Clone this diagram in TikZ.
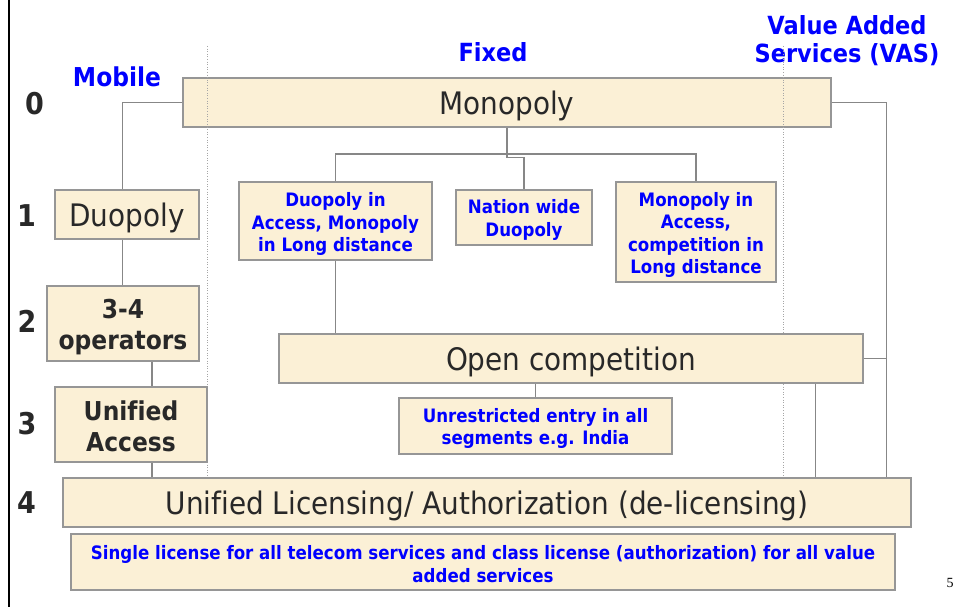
\documentclass[tikz,border=0pt]{standalone}
\usepackage{fontspec}
\setmainfont{DejaVu Sans}[FakeStretch=0.9, Ligatures=NoCommon]
\newfontfamily\pagefont{Liberation Serif}
\usetikzlibrary{calc}

\definecolor{boxfill}{RGB}{251,240,214}
\definecolor{boxline}{RGB}{150,150,150}
\definecolor{connline}{RGB}{135,135,135}
\definecolor{headblue}{RGB}{0,0,255}
\definecolor{darktext}{RGB}{40,40,40}

\tikzset{
  box/.style={draw=boxline, fill=boxfill, line width=1.3pt, inner sep=0pt},
  plaintext/.style={text=darktext, font=\fontsize{31}{35}\selectfont, align=center, inner sep=0pt},
  boldtext/.style={text=darktext, font=\fontsize{26}{31}\selectfont\bfseries, align=center, inner sep=0pt},
  bluetext/.style={text=headblue, font=\fontsize{18.5}{22.5}\selectfont\bfseries, align=center, inner sep=0pt},
  heading/.style={text=headblue, font=\fontsize{25}{28}\selectfont\bfseries, align=center, inner sep=0pt},
  stage/.style={text=darktext, font=\fontsize{30}{34}\selectfont\bfseries, inner sep=0pt},
  conn/.style={draw=connline, line width=1.1pt},
  guide/.style={draw=gray!70, line width=0.6pt, dotted},
}

\begin{document}
\begin{tikzpicture}[x=1pt, y=-1pt]
  \useasboundingbox (0,0) rectangle (954,607);
  \fill[white] (0,0) rectangle (954,607);

  % left margin rule
  \draw[line width=2.3pt, black] (9,0) -- (9,607);

  % column headings
  \node[heading, font=\fontsize{26}{28}\selectfont\bfseries] (hmob) at (117,77) {Mobile};
  \node[heading] (hfix) at (493,52) {Fixed};
  \node[heading] (hvas) at (847,41) {Value Added\\Services (VAS)};

  % stage numbers
  \node[stage] (s0) at (34.5,104) {0};
  \node[stage] (s1) at (26.5,216) {1};
  \node[stage] (s2) at (27,321) {2};
  \node[stage] (s3) at (27,424) {3};
  \node[stage] (s4) at (26.5,503) {4};

  % stage 0
  \node[box, minimum width=648pt, minimum height=49pt] (mono) at (507,102.5) {};
  \node[plaintext] (monot) at ([yshift=-3.5pt]mono.center) {Monopoly};

  % column separators
  \draw[guide] (207,46) -- (207,478);
  \draw[guide] (783,46) -- (783,478);

  % stage 1
  \node[box, minimum width=144pt, minimum height=49pt] (duom) at (127,214.5) {};
  \node[plaintext] (duomt) at ([yshift=-3.5pt]duom.center) {Duopoly};
  \node[box, minimum width=193pt, minimum height=78pt] (fa) at (335.5,221) {};
  \node[bluetext] (fat) at ([yshift=-3pt]fa.center) {Duopoly in\\Access, Monopoly\\in Long distance};
  \node[box, minimum width=136pt, minimum height=55pt] (fb) at (524,217.5) {};
  \node[bluetext] (fbt) at ([yshift=-2.5pt]fb.center) {Nation wide\\Duopoly};
  \node[box, minimum width=160pt, minimum height=100pt] (fc) at (696,232) {};
  \node[bluetext] (fct) at ([yshift=-3pt]fc.center) {Monopoly in\\Access,\\competition in\\Long distance};

  % stage 2
  \node[box, minimum width=152pt, minimum height=75pt] (ops) at (123,323.5) {};
  \node[boldtext] (opst) at ([yshift=-3.5pt]ops.center) {3-4\\operators};
  \node[box, minimum width=584pt, minimum height=49pt] (open) at (571,358.5) {};
  \node[plaintext] (opent) at ([yshift=-3.5pt]open.center) {Open competition};
  \node[box, minimum width=273pt, minimum height=56pt] (unres) at (535.5,426) {};
  \node[bluetext] (unrest) at ([yshift=-2.5pt]unres.center) {Unrestricted entry in all\\segments e.g. India};

  % stage 3
  \node[box, minimum width=152pt, minimum height=75pt] (ua) at (131,424.5) {};
  \node[boldtext] (uat) at ([yshift=-2pt]ua.center) {Unified\\Access};

  % stage 4
  \node[box, minimum width=848pt, minimum height=49pt] (ul) at (487,502.5) {};
  \node[plaintext] (ult) at ([yshift=-3.5pt]ul.center) {Unified Licensing/ Authorization (de-licensing)};
  \node[box, minimum width=824pt, minimum height=56pt] (single) at (483,562) {};
  \node[bluetext] (singlet) at ([yshift=-2pt]single.center) {Single license for all telecom services and class license (authorization) for all value\\added services};

  % page number
  \node[font=\pagefont\fontsize{14}{16}\selectfont, anchor=west, inner sep=0pt] (pg) at (946.5,583) {5};

  % connector guide coordinates
  \coordinate (mx) at (122.5,0);
  \coordinate (ax) at (152,0);
  \coordinate (br) at (0,154);
  \coordinate (rx) at (886.5,0);
  \coordinate (vx) at (815.5,0);

  % mobile chain
  \draw[conn] (mono.west) -| (mx |- duom.north);
  \draw[conn] (mx |- duom.south) -- (mx |- ops.north);
  \draw[conn] (ax |- ops.south) -- (ax |- ua.north);
  \draw[conn] (ax |- ua.south) -- (ax |- ul.north);

  % fixed tree
  \draw[conn] (mono.south) |- ($(fb.north)+(0,-32)$) -- (fb.north);
  \draw[conn] (fa.north) -- (fa.north |- br) -| (fc.north);
  \draw[conn] (fa.south) -- (fa.south |- open.north);
  \draw[conn] (unres.north |- open.south) -- (unres.north);
  \draw[conn] (vx |- open.south) -- (vx |- ul.north);

  % value added services line
  \draw[conn] (mono.east) -| (rx |- ul.north);
  \draw[conn] (open.east) -- (open.east -| rx);
\end{tikzpicture}
\end{document}
